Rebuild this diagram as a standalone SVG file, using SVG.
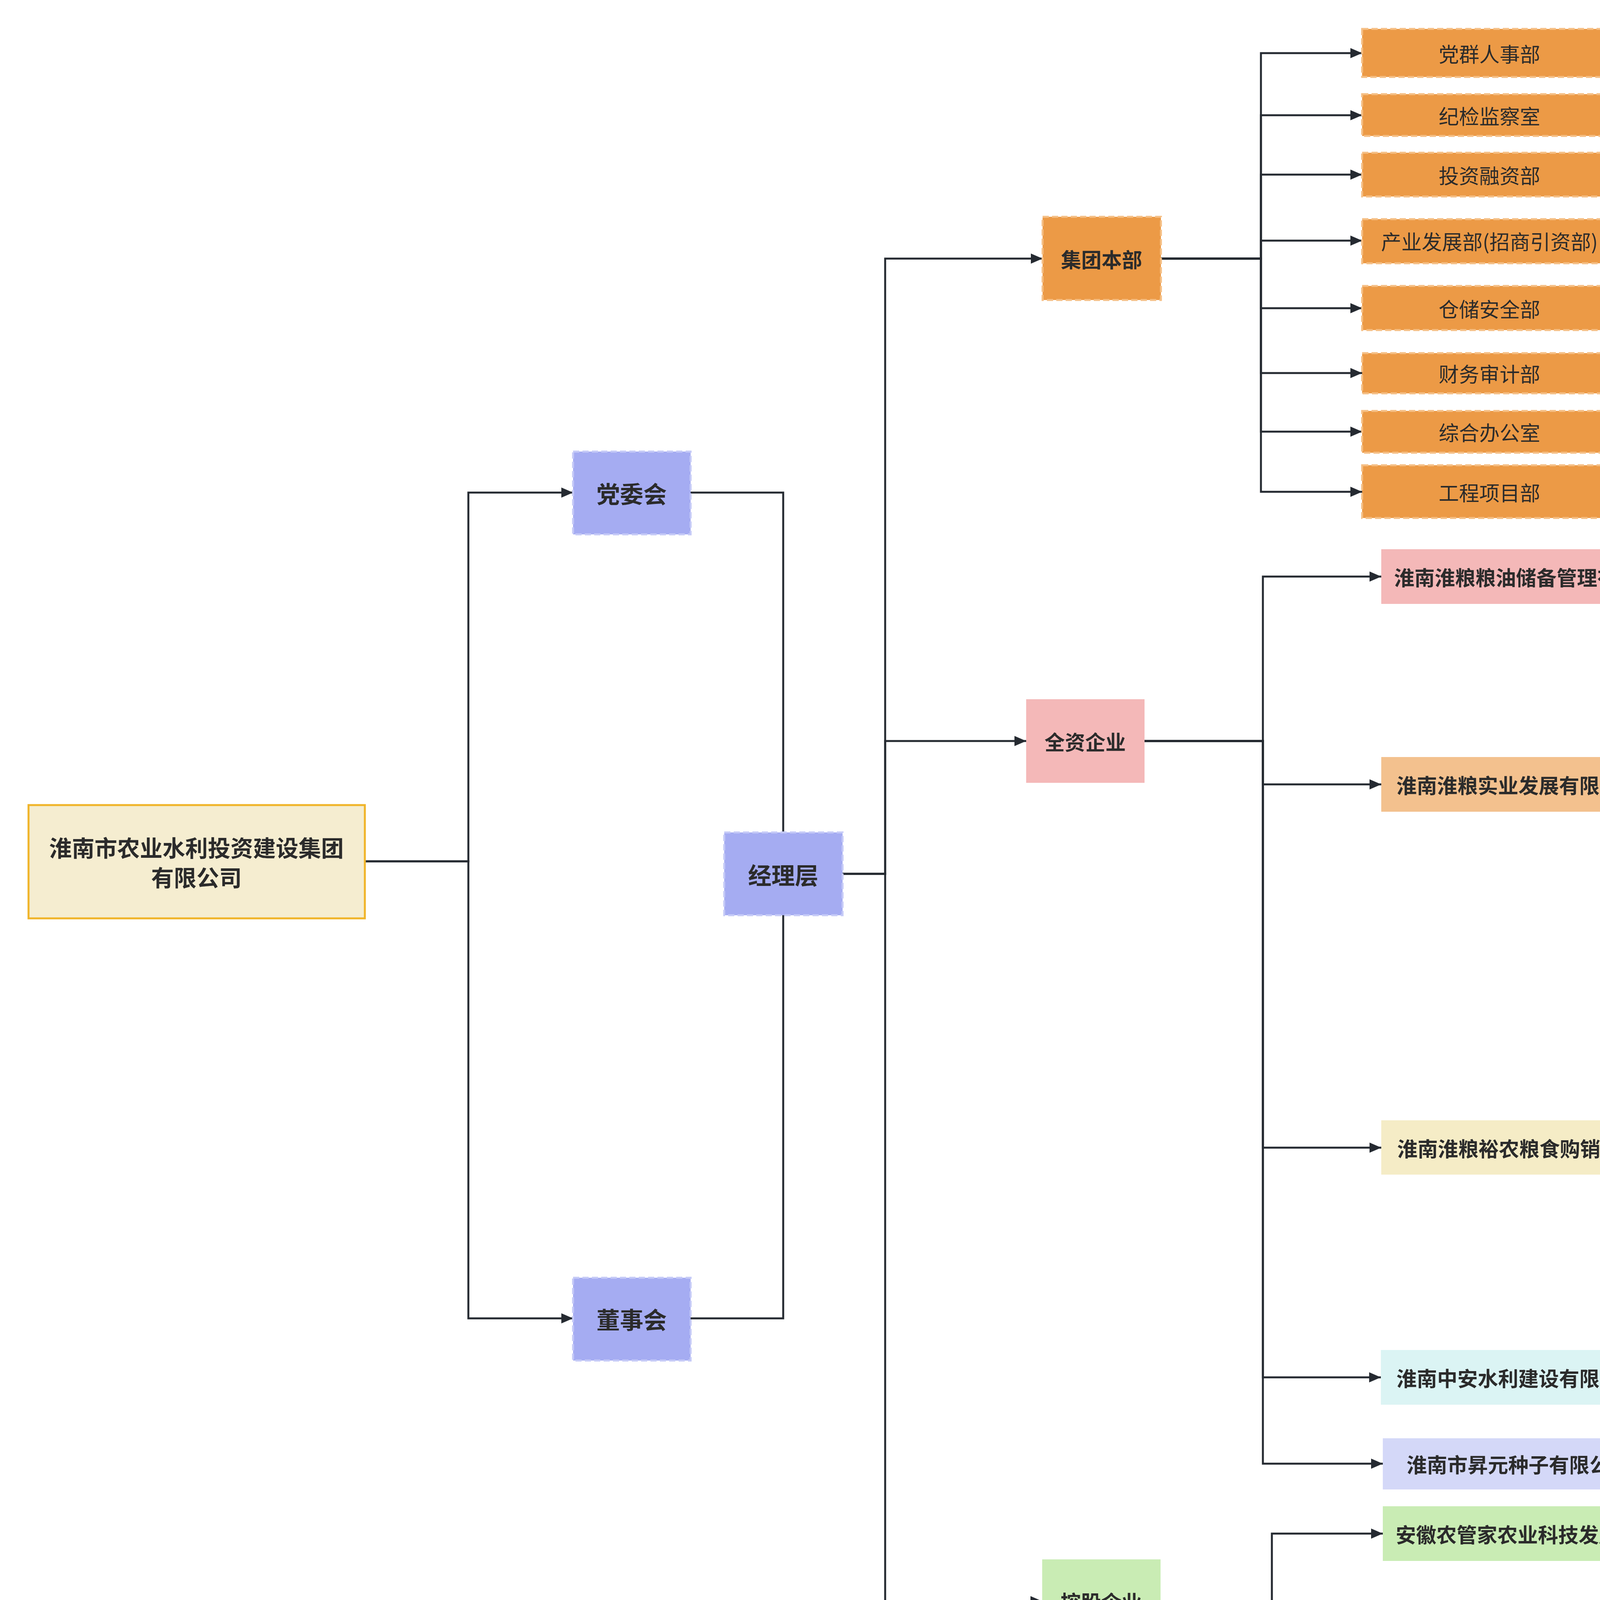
<svg xmlns="http://www.w3.org/2000/svg" width="7136" height="4535" viewBox="0 0 7136 4535">
<style>
text{font-family:"Noto Sans CJK SC","Liberation Sans",sans-serif;fill:#2b2b2b;text-anchor:middle;dominant-baseline:central;font-size:52px}
.b{font-weight:bold}
.l{font-size:60px;font-weight:bold}
.r{font-size:58px;font-weight:bold}
.c path{fill:none;stroke:#252a31;stroke-width:5;marker-end:url(#a)}
.c .n{marker-end:none}
.d{stroke-dasharray:16 8;stroke-width:5}
</style>
<defs><marker id="a" markerUnits="userSpaceOnUse" markerWidth="32" markerHeight="28" refX="30" refY="13" orient="auto"><path d="M0,0 L30,13 L0,26 z" fill="#252a31"/></marker></defs>
<rect width="7136" height="4535" fill="#fff"/>
<g class="c" id="connectors">
<path d="M934,2205 H1199 V1261 H1467"/>
<path d="M934,2205 H1199 V3375 H1467"/>
<path class="n" d="M1768,1261 H2005 V2131"/>
<path class="n" d="M1768,3375 H2005 V2343"/>
<path d="M2157,2237 H2266 V662 H2669"/>
<path d="M2157,2237 H2266 V1897 H2627"/>
<path d="M2157,2237 H2266 V4099 H2668"/>
<path d="M2972,662 H3228 V136 H3487"/>
<path d="M2972,662 H3228 V295 H3487"/>
<path d="M2972,662 H3228 V447 H3487"/>
<path d="M2972,662 H3228 V616 H3487"/>
<path d="M2972,662 H3228 V789 H3487"/>
<path d="M2972,662 H3228 V955 H3487"/>
<path d="M2972,662 H3228 V1105 H3487"/>
<path d="M2972,662 H3228 V1259 H3487"/>
<path d="M2930,1897 H3233 V1476 H3536"/>
<path d="M2930,1897 H3233 V2008 H3536"/>
<path d="M2930,1897 H3233 V2938 H3536"/>
<path d="M2930,1897 H3233 V3526 H3535"/>
<path d="M2930,1897 H3233 V3747 H3540"/>
<path d="M4331,1476 H4524 V1387 H4721"/>
<path d="M4331,1476 H4524 V1566 H4721"/>
<path d="M4239,2008 H4480 V1780 H4721"/>
<path d="M4239,2008 H4480 V1934 H4721"/>
<path d="M4239,2008 H4480 V2100 H4726"/>
<path d="M4239,2008 H4480 V2238 H4728"/>
<path d="M4346,2938 H4549 V2655 H4749"/>
<path d="M4346,2938 H4549 V3166 H4756"/>
<path d="M5132,2655 H5421 V2362 H5712"/>
<path d="M5132,2655 H5421 V2504 H5712"/>
<path d="M5132,2655 H5421 V2641 H5712"/>
<path d="M5132,2655 H5421 V2773 H5712"/>
<path d="M5132,2655 H5421 V2921 H5712"/>
<path d="M5123,3166 H5421 V3085 H5712"/>
<path d="M5123,3166 H5421 V3276 H5712"/>
<path d="M4344,3526 H4640 V3463 H4933"/>
<path d="M4344,3526 H4640 V3632 H4940"/>
<path d="M2971,4099 H3256 V3926 H3540"/>
<path d="M2971,4099 H3256 V4219 H3535"/>
<path d="M2971,4099 H3256 V4393 H3535"/>
<path d="M4594,3926 H4768 V3835 H4945"/>
<path d="M4594,3926 H4768 V4005 H4945"/>
<path d="M4240,4219 H4541"/>
</g>
<g id="root"><rect x="73" y="2061" width="861" height="290" fill="#f5edd0" stroke="#f0b429" stroke-width="5"/><text class="r" x="503" y="2168">淮南市农业水利投资建设集团</text><text class="r" x="503" y="2244">有限公司</text></g>
<g id="dangwei"><rect x="1467" y="1156" width="301" height="212" fill="#a5acf2" stroke="#c5caf7" class="d"/><text class="l" x="1617" y="1261">党委会</text></g>
<g id="dongshi"><rect x="1467" y="3271" width="301" height="212" fill="#a5acf2" stroke="#c5caf7" class="d"/><text class="l" x="1617" y="3375">董事会</text></g>
<g id="jingli"><rect x="1854" y="2131" width="303" height="212" fill="#a5acf2" stroke="#c5caf7" class="d"/><text class="l" x="2005" y="2237">经理层</text></g>
<g id="jituan"><rect x="2669" y="555" width="303" height="213" fill="#ec9a46" stroke="#f5bf85" class="d"/><text class="b" x="2820" y="662">集团本部</text></g>
<g id="dept1"><rect x="3487" y="74" width="653" height="123" fill="#ec9a46" stroke="#f5bf85" class="d"/><text x="3813" y="136">党群人事部</text></g>
<g id="dept2"><rect x="3487" y="241" width="653" height="107" fill="#ec9a46" stroke="#f5bf85" class="d"/><text x="3813" y="295">纪检监察室</text></g>
<g id="dept3"><rect x="3487" y="391" width="653" height="112" fill="#ec9a46" stroke="#f5bf85" class="d"/><text x="3813" y="447">投资融资部</text></g>
<g id="dept4"><rect x="3487" y="561" width="653" height="113" fill="#ec9a46" stroke="#f5bf85" class="d"/><text x="3813" y="616">产业发展部(招商引资部)</text></g>
<g id="dept5"><rect x="3487" y="732" width="653" height="113" fill="#ec9a46" stroke="#f5bf85" class="d"/><text x="3813" y="789">仓储安全部</text></g>
<g id="dept6"><rect x="3487" y="904" width="653" height="103" fill="#ec9a46" stroke="#f5bf85" class="d"/><text x="3813" y="955">财务审计部</text></g>
<g id="dept7"><rect x="3487" y="1052" width="653" height="107" fill="#ec9a46" stroke="#f5bf85" class="d"/><text x="3813" y="1105">综合办公室</text></g>
<g id="dept8"><rect x="3487" y="1191" width="653" height="135" fill="#ec9a46" stroke="#f5bf85" class="d"/><text x="3813" y="1259">工程项目部</text></g>
<g id="quanzi"><rect x="2627" y="1790" width="303" height="214" fill="#f4b8b8"/><text class="b" x="2778" y="1897">全资企业</text></g>
<g id="konggu"><rect x="2668" y="3992" width="303" height="214" fill="#c9ecb4"/><text class="b" x="2819" y="4099">控股企业</text></g>
<g id="c1"><rect x="3536" y="1406" width="795" height="140" fill="#f4b8b8"/><text class="b" x="3933" y="1476">淮南淮粮粮油储备管理有限公司</text></g>
<g id="c1a"><rect x="4721" y="1320" width="1049" height="134" fill="#f4b8b8" stroke="#f8d0d0" class="d"/><text x="5245" y="1387">安徽省淮南市春申国家粮食储备库有限公司</text></g>
<g id="c1b"><rect x="4721" y="1499" width="1049" height="134" fill="#f4b8b8" stroke="#f8d0d0" class="d"/><text x="5245" y="1566">安徽省淮南市罗山国家粮食储备库有限公司</text></g>
<g id="c2"><rect x="3536" y="1938" width="703" height="140" fill="#f3c18e"/><text class="b" x="3887" y="2008">淮南淮粮实业发展有限公司</text></g>
<g id="c2a"><rect x="4721" y="1727" width="794" height="107" fill="#f3c18e" stroke="#f8d8b5" class="d"/><text x="5118" y="1780">淮南市西山粮食储备库有限公司</text></g>
<g id="c2b"><rect x="4721" y="1879" width="794" height="110" fill="#f3c18e" stroke="#f8d8b5" class="d"/><text x="5118" y="1934">淮南淮粮农业科技发展有限公司</text></g>
<g id="c2c"><rect x="4726" y="2051" width="785" height="98" fill="#f3c18e" stroke="#f8d8b5" class="d"/><text x="5118" y="2100">淮南市淮舜粮食储备库有限公司</text></g>
<g id="c2d"><rect x="4728" y="2186" width="909" height="102" fill="#f3c18e" stroke="#f8d8b5" class="d"/><text x="5182" y="2238">淮南市东诚省级粮食储备库有限公司</text></g>
<g id="c3"><rect x="3536" y="2868" width="810" height="139" fill="#f5ecc6"/><text class="b" x="3941" y="2938">淮南淮粮裕农粮食购销有限公司</text></g>
<g id="d1"><polygon points="4939,2550 5132,2655 4939,2762 4749,2655" fill="#f5ecc6"/><text x="4939" y="2655">全资子公司</text></g>
<g id="d2"><polygon points="4939,3060 5123,3166 4939,3272 4756,3166" fill="#f5ecc6"/><text x="4939" y="3166">分支机构</text></g>
<g id="c3a"><rect x="5712" y="2309" width="800" height="107" fill="#f5ecc6" stroke="#faf4dc" class="d"/><text x="6112" y="2362">淮南市丰粮粮食购销有限公司</text></g>
<g id="c3b"><rect x="5712" y="2448" width="800" height="112" fill="#f5ecc6" stroke="#faf4dc" class="d"/><text x="6112" y="2504">淮南市瑞禾粮食购销有限公司</text></g>
<g id="c3c"><rect x="5712" y="2589" width="800" height="105" fill="#f5ecc6" stroke="#faf4dc" class="d"/><text x="6112" y="2641">淮南市九禾良源物流有限公司</text></g>
<g id="c3d"><rect x="5712" y="2713" width="800" height="121" fill="#f5ecc6" stroke="#faf4dc" class="d"/><text x="6112" y="2773">淮南市惠粮粮食购销有限公司</text></g>
<g id="c3e"><rect x="5712" y="2858" width="800" height="127" fill="#f5ecc6" stroke="#faf4dc" class="d"/><text x="6112" y="2921">淮南市袁庄粮食购销有限公司</text></g>
<g id="c3f"><rect x="5712" y="3010" width="1282" height="150" fill="#f5ecc6" stroke="#faf4dc" class="d"/><text x="6353" y="3085">淮南淮粮裕农粮食购销有限公司合肥市经开区分公司</text></g>
<g id="c3g"><rect x="5712" y="3204" width="1282" height="146" fill="#f5ecc6" stroke="#faf4dc" class="d"/><text x="6353" y="3276">淮南淮粮裕农粮食购销有限公司合肥市庐阳区分公司</text></g>
<path d="M6994,3036 H7058 V3296 H6994" fill="none" stroke="#f0e6c4" stroke-width="3" stroke-dasharray="12 8"/>
<g id="c4"><rect x="3535" y="3456" width="809" height="140" fill="#dbf4f4"/><text class="b" x="3939" y="3526">淮南中安水利建设有限责任公司</text></g>
<g id="c4a"><rect x="4933" y="3393" width="836" height="138" fill="#dbf4f4" stroke="#ecfafa" class="d"/><text x="5351" y="3463">淮南市安澜水利规划设计有限公司</text></g>
<g id="c4b"><rect x="4940" y="3570" width="822" height="122" fill="#dbf4f4" stroke="#ecfafa" class="d"/><text x="5351" y="3632">淮南市恒基堤防开发有限公司</text></g>
<g id="c5"><rect x="3540" y="3682" width="695" height="131" fill="#d4d8f8"/><text class="b" x="3887" y="3747">淮南市昇元种子有限公司</text></g>
<g id="k1"><rect x="3540" y="3856" width="1054" height="140" fill="#c9ecb4"/><text class="b" x="4067" y="3926">安徽农管家农业科技发展服务股份有限公司</text></g>
<g id="k1a"><rect x="4945" y="3760" width="868" height="149" fill="#c9ecb4" stroke="#e0f5d3" class="d"/><text x="5379" y="3835">农管家(寿县)农业科技发展有限公司</text></g>
<g id="k1b"><rect x="4945" y="3937" width="868" height="135" fill="#c9ecb4" stroke="#e0f5d3" class="d"/><text x="5379" y="4005">凤台农管家农业科技发展有限公司</text></g>
<g id="k2"><rect x="3535" y="4149" width="705" height="139" fill="#f0aa68"/><text class="b" x="3887" y="4219">安徽旭咚食品科技有限公司</text></g>
<g id="k2a"><rect x="4541" y="4149" width="838" height="139" fill="#f0aa68"/><text x="4960" y="4219">安徽橘生南餐饮管理服务有限公司</text></g>
<g id="k3"><rect x="3535" y="4323" width="843" height="139" fill="#ef9595"/><text class="b" x="3956" y="4393">安徽阳光鲜生供应链管理有限公司</text></g>
</svg>
